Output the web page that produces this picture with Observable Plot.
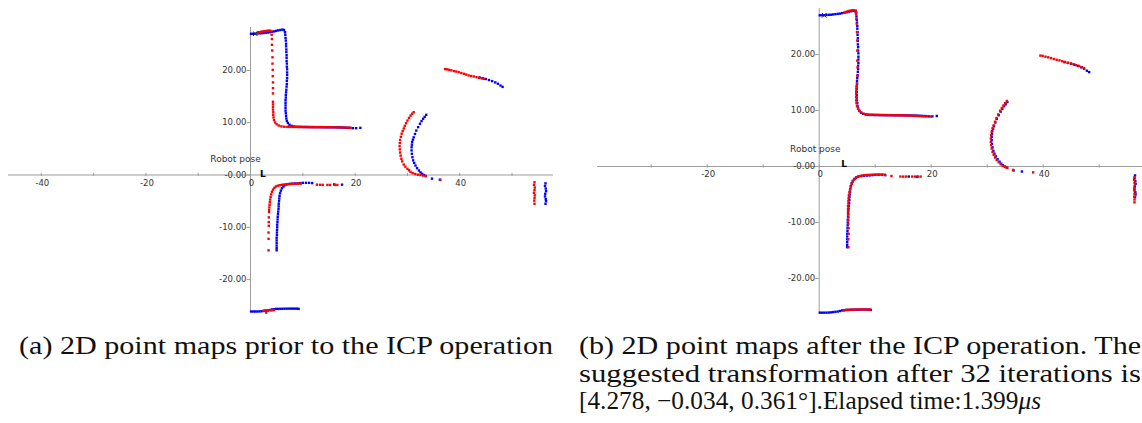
<!DOCTYPE html>
<html><head><meta charset="utf-8">
<script src="https://cdn.jsdelivr.net/npm/d3@7"></script>
<script src="https://cdn.jsdelivr.net/npm/@observablehq/plot@0.6"></script>
<style>
html,body{margin:0;padding:0;background:#fff}
body{width:1142px;height:423px;position:relative;overflow:hidden}
#pa{position:absolute;left:0;top:0}
#pb{position:absolute;left:597px;top:0;width:545px;height:320px;overflow:hidden}
.cap{position:absolute;font-family:"Liberation Serif",serif;font-size:25px;line-height:25px;white-space:nowrap;color:#111;display:inline-block;transform-origin:0 50%}
</style></head>
<body>
<div id="pa"></div>
<div id="pb"></div>
<div class="cap" data-w="534" style="left:19px;top:333px">(a) 2D point maps prior to the ICP operation</div>
<div class="cap" data-w="562" style="left:579px;top:333px">(b) 2D point maps after the ICP operation. The</div>
<div class="cap" data-w="562" style="left:579px;top:360.5px">suggested transformation after 32 iterations is</div>
<div class="cap" data-w="462" style="left:579px;top:388px">[4.278, −0.034, 0.361°].Elapsed time:1.399<i>μs</i></div>
<script>
// ---------- data (x, y in map units) ----------
const blueScan = [
  // top wall
  [0.1,27.0],[0.5,27.0],[0.9,27.02],[1.3,27.05],[1.7,27.08],[2.1,27.1],[2.5,27.15],[2.9,27.2],[3.3,27.25],[3.7,27.3],[4.1,27.38],[4.5,27.45],[4.9,27.55],[5.3,27.65],[5.7,27.72],[6.1,27.8],[6.4,27.72],
  // vertical wall
  [6.6,27.3],[6.65,26.8],[6.7,26.2],[6.75,25.7],[6.8,25.1],[6.8,24.6],[6.85,24.0],[6.85,23.5],[6.9,22.9],[6.9,22.4],[6.9,21.8],[6.95,21.3],[6.95,20.7],[7.0,20.2],[7.0,19.6],[7.0,19.1],[7.0,18.5],[6.95,18.0],[6.95,17.4],[6.9,16.9],[6.85,16.3],[6.8,15.8],[6.75,15.3],[6.75,14.8],[6.7,14.3],[6.7,13.8],[6.7,13.3],[6.7,12.8],[6.7,12.3],[6.75,11.8],[6.8,11.3],
  // corner + horizontal wall
  [6.85,10.8],[6.95,10.35],[7.15,9.95],[7.45,9.6],[7.85,9.4],[8.3,9.28],[8.7,9.22],[9.1,9.2],[9.5,9.2],[9.9,9.18],[10.3,9.18],[10.7,9.17],[11.1,9.16],[11.5,9.16],[11.9,9.15],[12.3,9.15],[12.7,9.15],[13.1,9.15],[13.5,9.14],[13.9,9.14],[14.3,9.14],[14.7,9.13],[15.1,9.13],[15.5,9.12],[15.9,9.12],[16.3,9.12],[16.7,9.1],[17.1,9.1],[17.5,9.08],[17.9,9.06],[18.3,9.04],[18.7,9.02],[19.1,9.0],[19.6,8.95],[20.2,8.95],[21.0,9.02],
  // arc
  [33.6,11.5],[33.3,11.1],[33.0,10.75],[32.7,10.3],[32.4,9.8],[32.05,9.15],[31.7,8.5],[31.45,7.85],[31.2,7.2],[31.05,6.75],[30.9,6.3],[30.85,5.8],[30.8,5.3],[30.8,4.7],[30.85,4.05],[30.95,3.4],[31.1,2.8],[31.3,2.3],[31.55,1.8],[31.85,1.3],[32.2,0.86],[32.5,0.5],[32.8,0.23],[33.15,0.0],[33.5,-0.2],[34.7,-0.7],[36.2,-0.9],
  // far diagonal wall
  [43.8,18.65],[44.4,18.5],[45.0,18.35],[45.6,18.15],[46.2,17.95],[46.8,17.7],[47.3,17.45],[47.8,17.1],[48.2,16.85],
  // far right wall
  [56.4,-1.6],[56.3,-2.1],[56.45,-2.6],[56.5,-3.1],[56.35,-3.6],[56.3,-4.1],[56.45,-4.6],[56.5,-5.0],[56.4,-5.5],
  // lower L
  [17.5,-1.85],[16.0,-1.8],[11.8,-1.55],[11.2,-1.5],[10.6,-1.5],[10.0,-1.5],[9.5,-1.55],[9.0,-1.6],[8.5,-1.62],[8.0,-1.65],[7.5,-1.7],[7.0,-1.78],[6.6,-1.95],[6.3,-2.2],[6.0,-2.55],[5.8,-3.0],[5.65,-3.5],[5.55,-4.0],[5.5,-4.5],[5.45,-5.0],[5.4,-5.5],[5.38,-6.0],[5.35,-6.5],[5.3,-7.0],[5.25,-7.5],[5.2,-8.0],[5.18,-8.5],[5.15,-9.0],[5.1,-9.5],[5.1,-10.0],[5.08,-10.5],[5.05,-11.0],[5.05,-11.5],[5.0,-12.0],[5.0,-12.5],[5.0,-13.0],[5.0,-13.5],[5.0,-14.0],[5.0,-14.4],
  // bottom wall
  [0.1,-26.1],[0.5,-26.1],[0.9,-26.1],[1.3,-26.1],[1.7,-26.08],[2.1,-26.05],[2.5,-26.0],[2.9,-25.95],[3.3,-25.9],[3.7,-25.8],[4.1,-25.7],[4.5,-25.65],[4.9,-25.6],[5.3,-25.6],[5.7,-25.58],[6.1,-25.58],[6.5,-25.56],[6.9,-25.56],[7.3,-25.55],[7.7,-25.55],[8.1,-25.55],[8.5,-25.55],[8.9,-25.55],[9.2,-25.6]
];

const redScanBefore = [
  [1.3,27.2],[1.65,27.3],[2.0,27.38],[2.35,27.45],[2.7,27.5],[3.05,27.55],[3.4,27.6],[3.75,27.6],[4.0,27.45],
  [4.05,26.8],[4.1,26.0],[4.1,24.9],[4.15,23.8],[4.2,22.5],[4.2,21.3],[4.25,20.1],[4.25,18.9],[4.3,17.7],[4.3,16.6],[4.3,15.6],[4.3,14.0],[4.3,13.5],[4.3,13.0],[4.3,12.5],[4.35,12.0],[4.35,11.5],[4.4,11.0],
  [4.5,10.5],[4.7,10.05],[5.0,9.7],[5.4,9.45],[5.9,9.3],[6.4,9.22],[6.9,9.2],[7.3,9.2],[7.7,9.19],[8.1,9.19],[8.5,9.18],[8.9,9.18],[9.3,9.18],[9.7,9.18],[10.1,9.17],[10.5,9.17],[10.9,9.17],[11.3,9.16],[11.7,9.16],[12.1,9.16],[12.5,9.15],[12.9,9.15],[13.3,9.15],[13.7,9.15],[14.1,9.14],[14.5,9.14],[14.9,9.14],[15.3,9.13],[15.8,9.12],[16.3,9.12],[16.8,9.1],[17.3,9.1],[17.8,9.08],[18.3,9.06],[18.8,9.04],[19.1,9.02],
  [31.2,12.0],[30.9,11.7],[30.6,11.35],[30.3,10.9],[30.0,10.4],[29.75,9.9],[29.5,9.4],[29.3,8.9],[29.1,8.4],[28.9,7.9],[28.75,7.3],[28.6,6.7],[28.55,6.1],[28.5,5.5],[28.55,4.9],[28.6,4.3],[28.7,3.7],[28.85,3.1],[29.0,2.6],[29.3,2.0],[29.6,1.6],[30.0,1.2],[30.3,0.9],[30.6,0.6],[31.0,0.35],[31.5,0.2],[32.0,0.05],[32.5,0.0],[33.0,-0.1],[33.5,-0.2],[36.3,-0.95],
  [37.2,20.25],[37.6,20.2],[38.0,20.1],[38.4,20.0],[38.9,19.86],[39.35,19.77],[39.8,19.67],[40.3,19.5],[40.8,19.35],[41.25,19.2],[41.7,19.03],[42.2,18.93],[42.7,18.84],[43.2,18.7],[43.7,18.58],[44.2,18.48],[44.6,18.39],
  [54.3,-1.4],[54.2,-1.9],[54.35,-2.4],[54.3,-2.9],[54.2,-3.4],[54.35,-3.9],[54.3,-4.4],[54.25,-4.9],[54.3,-5.5],
  [16.6,-1.9],[16.1,-1.9],[15.2,-1.9],[14.7,-1.9],[13.8,-1.88],[13.3,-1.88],[12.7,-1.85],
  [9.6,-1.65],[9.2,-1.65],[8.8,-1.68],[8.4,-1.7],[8.0,-1.7],[7.6,-1.72],[7.2,-1.75],[6.8,-1.78],[6.4,-1.82],[6.0,-1.88],[5.6,-1.95],[5.2,-2.05],[4.85,-2.2],[4.55,-2.45],[4.3,-2.8],[4.1,-3.2],[3.95,-3.7],[3.85,-4.2],[3.75,-4.7],[3.7,-5.2],[3.65,-5.7],[3.6,-6.2],[3.55,-6.7],[3.55,-7.1],[3.5,-8.1],[3.5,-9.0],[3.5,-9.7],[3.45,-11.0],[3.45,-12.2],[3.45,-14.4],
  [2.5,-25.95],[2.8,-25.9],[3.0,-26.3],[3.3,-25.9],[3.6,-25.85],[3.9,-25.85],[4.2,-25.85],[4.5,-25.8]
];

const redScanAfter = [
  [4.4,27.45],[4.75,27.6],[5.1,27.72],[5.45,27.82],[5.8,27.88],[6.15,27.9],[6.5,27.85],[6.6,27.6],
  [6.55,27.3],[6.65,26.4],[6.7,25.5],[6.75,24.0],[6.8,22.5],[6.8,20.7],[6.8,18.9],[6.85,17.7],[6.85,16.2],[6.75,14.8],[6.7,14.3],[6.65,13.9],[6.6,13.4],[6.6,13.0],[6.6,12.4],[6.6,11.8],[6.65,11.3],
  [6.75,10.75],[6.95,10.3],[7.2,9.9],[7.55,9.6],[8.0,9.4],[8.5,9.28],[8.9,9.25],[9.3,9.24],[9.7,9.23],[10.1,9.22],[10.5,9.22],[10.9,9.21],[11.3,9.2],[11.7,9.2],[12.1,9.19],[12.5,9.18],[12.9,9.17],[13.3,9.16],[13.7,9.15],[14.1,9.14],[14.5,9.13],[14.9,9.12],[15.3,9.11],[15.7,9.1],[16.1,9.08],[16.5,9.06],[16.9,9.04],[17.3,9.02],[17.7,9.0],[18.1,8.98],[18.5,8.96],[18.9,8.95],[19.3,8.95],[19.9,8.92],
  [33.5,11.7],[33.2,11.3],[32.9,10.9],[32.6,10.45],[32.3,9.95],[31.95,9.3],[31.65,8.65],[31.4,8.0],[31.15,7.35],[30.95,6.8],[30.8,6.2],[30.7,5.6],[30.65,5.0],[30.65,4.4],[30.7,3.8],[30.8,3.2],[30.95,2.6],[31.15,2.1],[31.4,1.6],[31.7,1.15],[32.05,0.75],[32.4,0.4],[32.8,0.1],[33.2,-0.1],[33.6,-0.25],[34.6,-0.6],[38.2,-1.05],
  [39.5,19.8],[39.9,19.75],[40.4,19.6],[40.9,19.5],[41.4,19.35],[41.9,19.2],[42.4,19.05],[42.9,18.95],[43.4,18.8],[43.9,18.65],[44.4,18.5],[44.9,18.4],[45.4,18.25],[45.9,18.1],[46.4,17.95],[46.9,17.75],[47.3,17.55],
  [56.3,-1.9],[56.25,-2.4],[56.3,-2.9],[56.35,-3.4],[56.25,-3.9],[56.3,-4.4],[56.3,-4.9],[56.25,-5.4],[56.3,-5.9],[56.3,-6.4],
  [18.1,-1.8],[17.6,-1.8],[17.1,-1.8],[16.6,-1.8],[15.5,-1.8],[15.0,-1.8],[14.5,-1.8],[12.9,-1.7],
  [11.7,-1.45],[11.3,-1.43],[10.9,-1.43],[10.5,-1.43],[10.1,-1.45],[9.7,-1.45],[9.3,-1.47],[8.9,-1.5],[8.5,-1.52],[8.1,-1.55],[7.7,-1.6],[7.3,-1.7],[6.9,-1.85],[6.55,-2.05],[6.25,-2.35],[6.0,-2.7],[5.8,-3.1],[5.65,-3.6],[5.5,-4.1],[5.4,-4.6],[5.3,-5.1],[5.25,-5.6],[5.2,-6.1],[5.2,-6.6],[5.15,-7.1],[5.15,-7.6],[5.15,-8.1],[5.15,-8.6],[5.2,-9.1],[5.2,-9.6],[5.2,-10.2],[5.25,-11.0],[5.25,-12.0],[5.2,-13.0],[5.2,-14.4],
  [4.4,-25.7],[4.8,-25.62],[5.2,-25.6],[5.6,-25.58],[6.0,-25.55],[6.4,-25.55],[6.8,-25.55],[7.2,-25.55],[7.6,-25.53],[8.0,-25.53],[8.4,-25.55],[8.8,-25.55],[9.1,-25.55]
];

const scanStart = [[0.9, 27.0]];
const robotPoseBefore = [[1.8, 0.1]];
const robotPoseAfter = [[3.95, 0.45]];
const poseLabelBefore = [[1.95, 3.0]];
const poseLabelAfter = [[3.8, 3.1]];
const poseLabelText = "Robot pose";

const xTickValues = [-40, -30, -20, -10, 0, 10, 20, 30, 40, 50];
const xLabelValuesA = [-40, -20, 0, 20, 40];
const xTickLabelsA = ["-40", "-20", "0", "20", "40"];
const xLabelValuesB = [-20, 0, 20, 40];
const xTickLabelsB = ["-20", "0", "20", "40"];
const yTickValues = [20, 10, 0, -10, -20];
const yTickLabels = ["20.00", "10.00", "-0.00", "-10.00", "-20.00"];

// ---------- drawing ----------
const axisColor = "#9d9d9d";
function panel(o) {
  return Plot.plot({
    width: o.width, height: o.height,
    marginLeft: o.ml, marginRight: o.mr, marginTop: o.mt, marginBottom: o.mb,
    x: {domain: o.xDomain, axis: null},
    y: {domain: o.yDomain, axis: null},
    style: {background: "transparent", fontFamily: "'DejaVu Sans', sans-serif", fontSize: "8.5px", color: "#333"},
    marks: [
      Plot.ruleY([0], {stroke: axisColor}),
      Plot.ruleX([0], {stroke: axisColor}),
      Plot.ruleX(xTickValues, {x: d => d, y1: 0, y2: 0, insetTop: -1.6, insetBottom: -1.6, stroke: axisColor}),
      Plot.ruleY(yTickValues, {y: d => d, x1: 0, x2: 0, insetLeft: -1.7, insetRight: -1.7, dx: -1.7, stroke: axisColor}),
      Plot.text(o.xLabelValues, {x: d => d, y: 0, dy: 8, dx: 1, text: (d, i) => o.xTickLabels[i], fill: "#333", lineAnchor: "middle"}),
      Plot.text(yTickValues, {x: 0, y: d => d, dx: -4, text: (d, i) => yTickLabels[i], textAnchor: "end", fill: "#333", lineAnchor: "middle"}),
      Plot.dot(blueScan, {x: d => d[0], y: d => d[1], symbol: "square", r: 1.35, fill: "#0000ff"}),
      Plot.dot(o.red, {x: d => d[0], y: d => d[1], symbol: "square", r: 1.35, fill: "#ff0000"}),
      Plot.dot(scanStart, {x: d => d[0], y: d => d[1], symbol: "times", r: 2.2, stroke: "#20204a", strokeWidth: 1}),
      Plot.text(o.pose, {x: d => d[0], y: d => d[1], text: () => "L", textAnchor: "start", lineAnchor: "middle", fontSize: 9, fontWeight: "bold", fill: "#000"}),
      Plot.text(o.label, {x: d => d[0], y: d => d[1], text: () => poseLabelText, textAnchor: "end", lineAnchor: "middle", fontSize: 9, fill: "#333"})
    ]
  });
}

document.getElementById("pa").append(panel({
  width: 560, height: 320, ml: 8, mr: 7, mt: 27, mb: 8,
  xDomain: [-46.27, 57.93], yDomain: [-26.29, 28.2],
  xLabelValues: xLabelValuesA, xTickLabels: xTickLabelsA,
  red: redScanBefore, pose: robotPoseBefore, label: poseLabelBefore
}));
document.getElementById("pb").append(panel({
  width: 545, height: 320, ml: 0, mr: 0, mt: 8, mb: 8,
  xDomain: [-39.59, 57.73], yDomain: [-26.07, 28.21],
  xLabelValues: xLabelValuesB, xTickLabels: xTickLabelsB,
  red: redScanAfter, pose: robotPoseAfter, label: poseLabelAfter
}));

// fit caption lines to their measured widths
document.querySelectorAll(".cap").forEach(el => {
  const w = el.getBoundingClientRect().width;
  el.style.transform = "scaleX(" + (+el.dataset.w / w).toFixed(4) + ")";
});
</script>
</body></html>
